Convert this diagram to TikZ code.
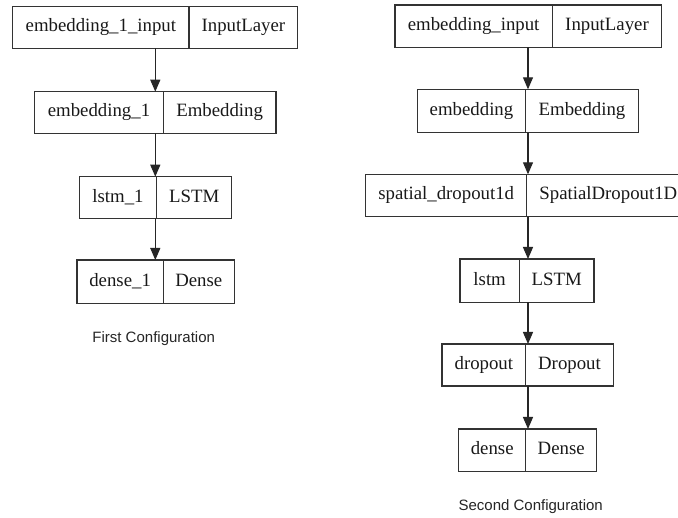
\documentclass[tikz,border=0pt]{standalone}
\usepackage{fontspec}
\setmainfont{Liberation Serif}
\newfontfamily\capfont{Liberation Sans}
\usetikzlibrary{arrows.meta}
\newcommand\netrec[8]{%
 \pgfmathsetmacro\wa{#3-#2}\pgfmathsetmacro\wb{#4-#3}\pgfmathsetmacro\hh{#6-#5}%
 \pgfmathsetmacro\ca{(#2+#3)/2}\pgfmathsetmacro\cb{(#3+#4)/2}\pgfmathsetmacro\cy{(#5+#6)/2}%
 \node[half, minimum width=\wa pt, minimum height=\hh pt] (#1a) at (\ca,\cy) {#7};
 \node[half, minimum width=\wb pt, minimum height=\hh pt] (#1b) at (\cb,\cy) {#8};}
\begin{document}
\begin{tikzpicture}[x=1pt,y=-1pt,
  half/.style={draw=black!80, line width=1.2pt, inner sep=0pt, outer sep=0pt,
    font=\fontsize{18.8}{20}\selectfont, text=black!90, text height=13pt, text depth=4pt},
  arr/.style={draw=black!85, line width=1.2pt, -{Triangle[length=12pt,width=10pt]}},
  captext/.style={font=\capfont\fontsize{15}{17}\selectfont, text=black!85, inner sep=0pt}]
\useasboundingbox (0,0) rectangle (678,518);
\clip (0,0) rectangle (678,518);
\fill[white] (0,0) rectangle (678,518);
% left column
\coordinate (lc) at (155.3,0);
\netrec{l1}{12.7}{189}{297.7}{6.7}{48.3}{embedding\_1\_input}{InputLayer}
\netrec{l2}{34.7}{163.3}{276}{91.7}{133.3}{embedding\_1}{Embedding}
\netrec{l3}{79.3}{156.7}{231.7}{176.7}{218.7}{lstm\_1}{LSTM}
\netrec{l4}{77}{163.3}{234.3}{260}{303.7}{dense\_1}{Dense}
\draw[arr] (l1a.south -| lc) -- (l2a.north -| lc);
\draw[arr] (l2a.south -| lc) -- (l3a.north -| lc);
\draw[arr] (l3a.south -| lc) -- (l4a.north -| lc);
\node[captext] (cap1) at (153.7,338.3) {First Configuration};
% right column
\coordinate (rc) at (528,0);
\netrec{r1}{395}{552.3}{661.7}{5}{47.3}{embedding\_input}{InputLayer}
\netrec{r2}{417.3}{525.7}{638.3}{89.3}{132.7}{embedding}{Embedding}
\netrec{r3}{365.7}{526.7}{690}{174.3}{216.7}{spatial\_dropout1d}{SpatialDropout1D}
\netrec{r4}{460}{519.3}{594}{259}{302.3}{lstm}{LSTM}
\netrec{r5}{442}{525.7}{613.3}{344}{386}{dropout}{Dropout}
\netrec{r6}{458.7}{525.7}{596.7}{429}{471.3}{dense}{Dense}
\draw[arr] (r1a.south -| rc) -- (r2a.north -| rc);
\draw[arr] (r2a.south -| rc) -- (r3a.north -| rc);
\draw[arr] (r3a.south -| rc) -- (r4a.north -| rc);
\draw[arr] (r4a.south -| rc) -- (r5a.north -| rc);
\draw[arr] (r5a.south -| rc) -- (r6a.north -| rc);
\node[captext] (cap2) at (530.7,506.7) {Second Configuration};
\end{tikzpicture}
\end{document}
